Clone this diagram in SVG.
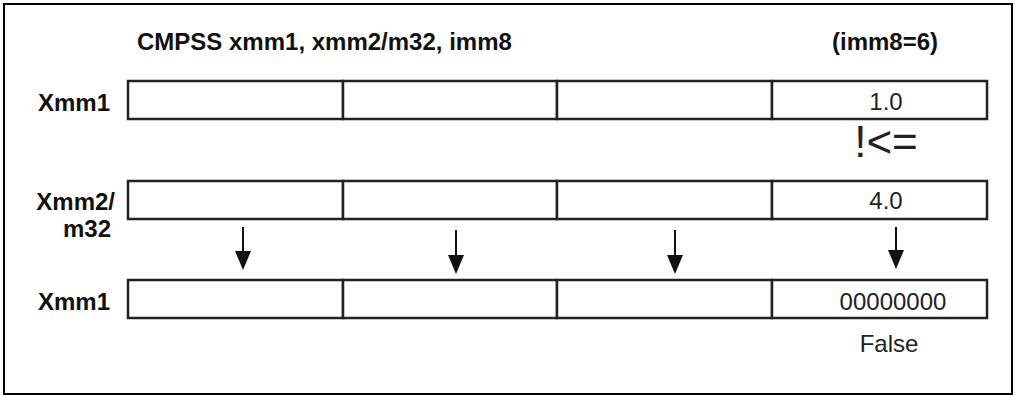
<svg xmlns="http://www.w3.org/2000/svg" width="1016" height="396" viewBox="0 0 1016 396">
<style>
.frame{fill:#fff;stroke:#000;stroke-width:2}
.cell{fill:#fff;stroke:#222;stroke-width:2.5}
.lbl{font-family:"Liberation Sans",Arial,sans-serif;font-size:24px;font-weight:bold;fill:#111}
.val{font-family:"Liberation Sans",Arial,sans-serif;font-size:24px;fill:#222;text-anchor:middle}
.arr{stroke:#111;stroke-width:2;fill:none}
</style>
<defs>
<marker id="ah" markerUnits="userSpaceOnUse" viewBox="0 -8 19 16" markerWidth="19" markerHeight="16" refX="5" refY="0" orient="auto">
<path d="M0,-8 L19,0 L0,8 z" fill="#111"/>
</marker>
</defs>
<rect class="frame" x="4" y="4" width="1008" height="390"/>
<text class="lbl" x="137" y="50">CMPSS xmm1, xmm2/m32, imm8</text>
<text class="lbl" x="832" y="50">(imm8=6)</text>
<g id="row1">
<text class="lbl" x="110" y="111" text-anchor="end">Xmm1</text>
<rect class="cell" x="128" y="81" width="215" height="38"/>
<rect class="cell" x="343" y="81" width="214" height="38"/>
<rect class="cell" x="557" y="81" width="215" height="38"/>
<rect class="cell" x="772" y="81" width="215" height="38"/>
<text class="val" x="886" y="110">1.0</text>
</g>
<g id="op">
<text class="val" x="886" y="157" style="font-size:44px">!&lt;=</text>
</g>
<g id="row2">
<text class="lbl" x="115" y="210" text-anchor="end">Xmm2/</text>
<text class="lbl" x="111" y="237" text-anchor="end">m32</text>
<rect class="cell" x="128" y="181" width="215" height="38"/>
<rect class="cell" x="343" y="181" width="214" height="38"/>
<rect class="cell" x="557" y="181" width="215" height="38"/>
<rect class="cell" x="772" y="181" width="215" height="38"/>
<text class="val" x="886" y="209">4.0</text>
</g>
<g id="row3">
<text class="lbl" x="110" y="310" text-anchor="end">Xmm1</text>
<rect class="cell" x="128" y="280" width="215" height="38"/>
<rect class="cell" x="343" y="280" width="214" height="38"/>
<rect class="cell" x="557" y="280" width="215" height="38"/>
<rect class="cell" x="772" y="280" width="215" height="38"/>
<text class="val" x="893" y="310">00000000</text>
<text class="val" x="889" y="352">False</text>
</g>
<g id="connectors">
<line class="arr" x1="243" y1="227" x2="243" y2="256" marker-end="url(#ah)"/>
<line class="arr" x1="456" y1="230" x2="456" y2="260" marker-end="url(#ah)"/>
<line class="arr" x1="675" y1="230" x2="675" y2="260" marker-end="url(#ah)"/>
<line class="arr" x1="896" y1="227" x2="896" y2="255" marker-end="url(#ah)"/>
</g>
</svg>
